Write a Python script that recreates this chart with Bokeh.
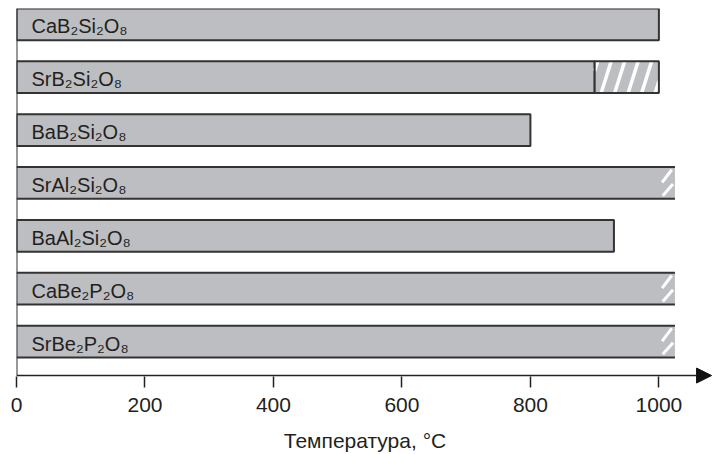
from bokeh.plotting import figure
from bokeh.models import Range1d, Arrow, NormalHead, ColumnDataSource, FixedTicker
from bokeh.core.properties import value
from bokeh.embed import file_html
from bokeh.resources import INLINE

# ---- data ----
formulas = ["CaB₂Si₂O₈", "SrB₂Si₂O₈", "BaB₂Si₂O₈", "SrAl₂Si₂O₈",
            "BaAl₂Si₂O₈", "CaBe₂P₂O₈", "SrBe₂P₂O₈"]
solid_end = [1000, 900, 800, 1025, 930, 1025, 1025]
hatch_end = [None, 1000, None, None, None, None, None]
open_end = [False, False, False, True, False, True, True]
x_ticks = [0, 200, 400, 600, 800, 1000]
x_title = "Температура, °C"

FONT = "Liberation Sans"
TXT = "#231f20"
FILL = "#bdbec1"
EDGE = "#333333"
H = 0.6          # bar thickness in category units
Y_AXIS = 6.642   # data y of the horizontal axis line
Y_BOT = 6.868    # frame bottom (room for arrow head / ticks)
Y_TOP = -0.3
X_END = 1085
PX_X = 697 / X_END            # px per x unit
PX_Y = 380 / (Y_BOT - Y_TOP)  # px per y unit

idx = list(range(len(formulas)))

p = figure(width=719, height=454, output_backend="svg", toolbar_location=None,
           x_range=Range1d(0, X_END), y_range=Range1d(Y_BOT, Y_TOP),
           min_border_left=16, min_border_right=6, min_border_top=8, min_border_bottom=66)
p.outline_line_color = None
p.xgrid.visible = False
p.ygrid.visible = False
p.yaxis.visible = False
p.background_fill_color = "white"

# closed bars
closed = [i for i in idx if not open_end[i]]
src_c = ColumnDataSource(dict(l=[0]*len(closed), r=[solid_end[i] for i in closed],
                              b=[i + H/2 for i in closed], t=[i - H/2 for i in closed]))
p.quad(left="l", right="r", bottom="b", top="t", source=src_c,
       fill_color=FILL, line_color=EDGE, line_width=2)

# hatched extension: steep white stripes, clipped to the box
hat = [i for i in idx if hatch_end[i] is not None]
sx0, sx1, sy0, sy1 = [], [], [], []
slant = 10 / PX_X           # x shift (units) over full bar height
step = 13.5 / PX_X          # horizontal stripe spacing (units)
for i in hat:
    a, b = solid_end[i], hatch_end[i]
    yb, yt = i + H/2, i - H/2
    xb = a - slant + 3 / PX_X
    while xb < b:
        t0, t1 = 0.0, 1.0
        if xb < a:
            t0 = (a - xb) / slant
        if xb + slant > b:
            t1 = (b - xb) / slant
        if t1 > t0:
            sx0.append(xb + slant * t0); sy0.append(yb + (yt - yb) * t0)
            sx1.append(xb + slant * t1); sy1.append(yb + (yt - yb) * t1)
        xb += step
src_h = ColumnDataSource(dict(l=[solid_end[i] for i in hat], r=[hatch_end[i] for i in hat],
                              b=[i + H/2 for i in hat], t=[i - H/2 for i in hat]))
p.quad(left="l", right="r", bottom="b", top="t", source=src_h,
       fill_color=FILL, line_color=None)
p.segment(x0=sx0, x1=sx1, y0=sy0, y1=sy1, line_color="white", line_width=3.5)
p.quad(left="l", right="r", bottom="b", top="t", source=src_h,
       fill_color=None, line_color=EDGE, line_width=2)

# open-ended bars (no right edge, with break marks)
opn = [i for i in idx if open_end[i]]
src_o = ColumnDataSource(dict(l=[0]*len(opn), r=[solid_end[i] for i in opn],
                              b=[i + H/2 for i in opn], t=[i - H/2 for i in opn]))
p.quad(left="l", right="r", bottom="b", top="t", source=src_o,
       fill_color=FILL, line_color=None)
p.segment(x0=[0]*len(opn)*2, x1=[solid_end[i] for i in opn]*2,
          y0=[i - H/2 for i in opn] + [i + H/2 for i in opn],
          y1=[i - H/2 for i in opn] + [i + H/2 for i in opn],
          line_color=EDGE, line_width=2)
bx0, bx1, by0, by1 = [], [], [], []
for i in opn:
    v = solid_end[i]
    bx0 += [v - 20, v - 19]
    bx1 += [v - 5, v - 3]
    by0 += [i - 0.01, i + 0.24]
    by1 += [i - 0.25, i + 0.02]
p.segment(x0=bx0, x1=bx1, y0=by0, y1=by1, line_color="white", line_width=3)

# left vertical line (stops at the horizontal axis)
p.segment(x0=[0], x1=[0], y0=[Y_TOP], y1=[Y_AXIS], line_color=EDGE, line_width=2)

# bar labels
p.text(x=[0]*len(formulas), y=idx, text=formulas, x_offset=15, y_offset=2,
       text_font=value(FONT), text_font_size="20px", text_color=TXT,
       text_baseline="middle", text_align="left")

# horizontal axis line with arrow
p.add_layout(Arrow(end=NormalHead(size=15, fill_color="#111111", line_color="#111111"),
                   x_start=0, x_end=X_END - 3, y_start=Y_AXIS, y_end=Y_AXIS,
                   line_color="#222222", line_width=1.5))

# x axis: ticks and labels (axis line drawn by the arrow above)
ax = p.xaxis[0]
ax.ticker = FixedTicker(ticks=x_ticks)
ax.axis_line_color = None
ax.major_tick_line_color = "#222222"
ax.major_tick_line_width = 1.5
ax.major_tick_in = 11
ax.major_tick_out = 0
ax.minor_tick_line_color = None
ax.major_label_text_font = FONT
ax.major_label_text_font_size = "21px"
ax.major_label_text_color = TXT
ax.major_label_standoff = 10
ax.axis_label = x_title
ax.axis_label_text_font = FONT
ax.axis_label_text_font_size = "21px"
ax.axis_label_text_font_style = "normal"
ax.axis_label_text_color = TXT
ax.axis_label_standoff = 14

open("out.html", "w").write(file_html(p, INLINE))
